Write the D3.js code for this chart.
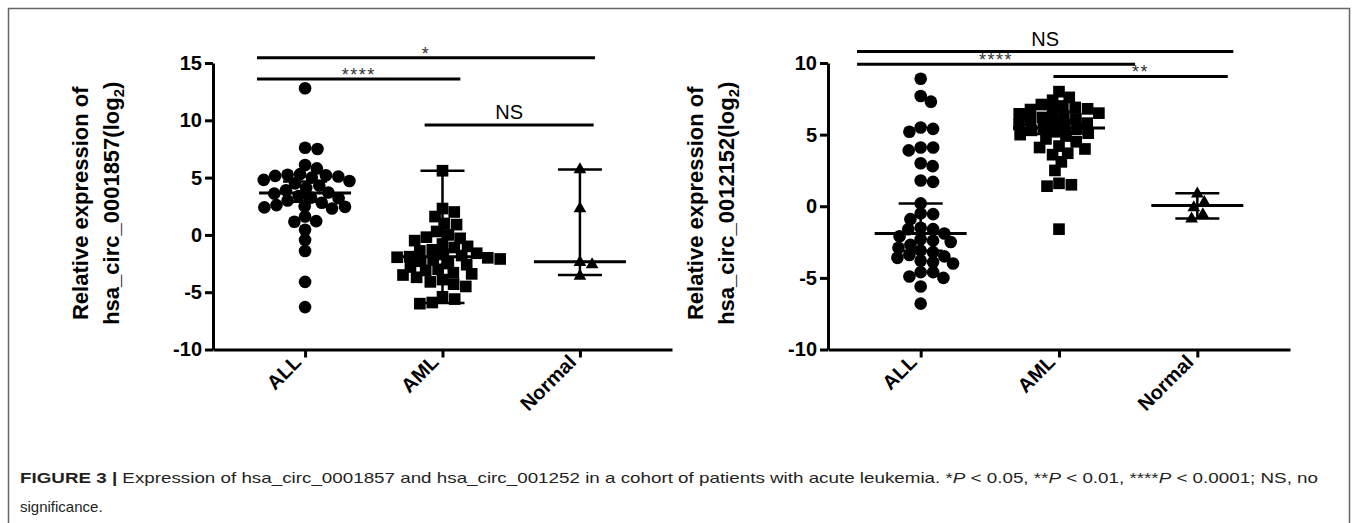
<!DOCTYPE html>
<html>
<head>
<meta charset="utf-8">
<script src="https://cdn.jsdelivr.net/npm/d3@7"></script>
<style>
  body { margin: 0; background: #fff; }
  svg { display: block; }
</style>
</head>
<body>
<svg id="canvas"></svg>
<script>
const groups = ["ALL", "AML", "Normal"];

// panel 1: hsa_circ_0001857
const circ1857ALL = [12.8, 7.6, 7.5, 6.1, 5.8, 5.3, 5.2, 5.25, 5.15, 5.1, 5.0, 4.8, 4.7, 4.5, 4.3, 4.1, 3.9, 3.7,
  3.6, 3.4, 3.2, 3.25, 3.0, 2.8, 2.6, 2.5, 2.4, 2.45, 2.3, 1.6, 1.2, 1.15, 0.45, -0.45, -1.4, -4.1, -6.3];
const circ1857AML = [5.6, 2.3, 2.0, 1.6, 1.0, 0.9, 0.3, 0.0, -0.2, -0.3, -0.5, -0.8, -1.0, -1.1, -1.3, -1.4,
  -1.6, -1.7, -1.8, -1.9, -1.95, -2.0, -2.1, -2.2, -2.3, -2.5, -2.6, -2.8, -3.0, -3.1, -3.3, -3.4, -3.5,
  -3.7, -3.9, -4.1, -4.3, -4.5, -5.4, -5.6, -5.9, -6.0];
const circ1857Normal = [5.7, 2.3, -2.4, -2.6, -3.6];
const circ1857Median = [3.65, -1.9, -2.35];
const circ1857Low = [2.9, -5.95, -3.5];
const circ1857High = [4.65, 5.6, 5.7];
const circ1857Ticks = [-10, -5, 0, 5, 10, 15];
const circ1857SigText = ["*", "****", "NS"];
const circ1857SigLevel = [15.45, 13.6, 9.6];
const circ1857SigFrom = [-0.35, -0.35, 0.87];
const circ1857SigTo = [2.11, 1.13, 2.1];

// panel 2: hsa_circ_0012152
const circ12152ALL = [8.9, 7.7, 7.3, 5.5, 5.4, 5.2, 4.1, 4.1, 3.9, 3.0, 2.8, 1.8, 1.7, 0.2, -0.5, -0.55, -0.9,
  -1.5, -1.6, -1.6, -1.9, -2.1, -2.3, -2.4, -2.5, -2.7, -2.9, -3.1, -3.2, -3.4, -3.5, -3.6, -3.8, -3.9,
  -4.0, -4.6, -4.6, -4.9, -5.0, -5.6, -6.8];
const circ12152AML = [8.0, 7.6, 7.4, 7.1, 7.0, 6.9, 6.8, 6.75, 6.6, 6.5, 6.45, 6.3, 6.2, 6.1, 6.0, 5.9, 5.8,
  5.7, 5.6, 5.5, 5.4, 5.3, 5.2, 5.1, 5.0, 4.9, 4.7, 4.5, 4.2, 4.1, 4.0, 3.7, 3.6, 3.1, 2.5, 1.6, 1.5, 1.4, -1.6];
const circ12152Normal = [0.86, 0.28, -0.1, -0.58, -0.88];
const circ12152Median = [-1.9, 5.46, 0.05];
const circ12152Low = [-3.1, 5.05, -0.85];
const circ12152High = [0.2, 6.0, 0.9];
const circ12152Ticks = [-10, -5, 0, 5, 10];
const circ12152SigText = ["NS", "****", "**"];
const circ12152SigLevel = [10.8, 9.92, 9.06];
const circ12152SigFrom = [-0.46, -0.46, 0.96];
const circ12152SigTo = [2.26, 1.55, 2.22];

const width = 1358;
const height = 523;

const svg = d3.select("#canvas").attr("width", width).attr("height", height);

// figure frame
svg.append("rect")
  .attr("x", 8.5).attr("y", 8.5)
  .attr("width", 1341).attr("height", 560)
  .attr("fill", "none").attr("stroke", "#666").attr("stroke-width", 1.5);

const symbolTypes = [d3.symbolCircle, d3.symbolSquare, d3.symbolTriangle];
const symbolSizes = [125, 136, 70];

// beeswarm: each point goes as close to the centre as it can,
// points keep a wider gap sideways than up and down (like Prism does)
const swarm = (values, y, gx, gy) => {
  const placed = [];
  const hits = (q, c, py) => ((q.x - c) / gx) ** 2 + ((q.y - py) / gy) ** 2 < 0.999;
  values
    .map((v) => ({ v: v, y: y(v) }))
    .sort((a, b) => a.y - b.y)
    .forEach((p) => {
      let cands = [0];
      placed.forEach((q) => {
        const dy = Math.abs(q.y - p.y);
        if (dy < gy) {
          const dx = gx * Math.sqrt(1 - (dy / gy) ** 2);
          cands.push(q.x + dx, q.x - dx);
        }
      });
      cands.sort((a, b) => Math.abs(a) - Math.abs(b));
      for (const c of cands) {
        if (!placed.some((q) => hits(q, c, p.y))) {
          p.x = c;
          break;
        }
      }
      placed.push(p);
    });
  return placed;
};

const fontBase = "Liberation Sans, Arial, sans-serif";

const drawPanel = (cfg) => {
  const g = svg.append("g");

  const xScale = d3.scalePoint().domain(groups).range([cfg.x0, cfg.x1]).padding(0.67);
  const step = xScale.step();
  const xAt = (i) => xScale(groups[0]) + i * step;

  const yScale = d3.scaleLinear().domain([-10, d3.max(cfg.ticks)]).range([349.5, 63]);

  // points
  cfg.series.forEach((vals, i) => {
    const pts = swarm(vals, yScale, 12.5, 10);
    g.append("g")
      .selectAll("path")
      .data(pts)
      .enter()
      .append("path")
      .attr("d", d3.symbol().type(symbolTypes[i]).size(symbolSizes[i]))
      .attr("transform", (d) => `translate(${xScale(groups[i]) + d.x},${d.y})`)
      .attr("fill", "#000");
  });

  // median with error bars
  groups.forEach((name, i) => {
    const cx = xScale(name);
    g.append("line")
      .attr("x1", cx).attr("x2", cx)
      .attr("y1", yScale(cfg.high[i])).attr("y2", yScale(cfg.low[i]))
      .attr("stroke", "#000").attr("stroke-width", 2.5);
    [cfg.high[i], cfg.low[i]].forEach((v) => {
      g.append("line")
        .attr("x1", cx - 22).attr("x2", cx + 22)
        .attr("y1", yScale(v)).attr("y2", yScale(v))
        .attr("stroke", "#000").attr("stroke-width", 2.5);
    });
    g.append("line")
      .attr("x1", cx - 46).attr("x2", cx + 46)
      .attr("y1", yScale(cfg.median[i])).attr("y2", yScale(cfg.median[i]))
      .attr("stroke", "#000").attr("stroke-width", 3);
  });

  // significance bars
  cfg.sigText.forEach((t, i) => {
    const yy = yScale(cfg.sigLevel[i]);
    const a = xAt(cfg.sigFrom[i]);
    const b = xAt(cfg.sigTo[i]);
    g.append("line")
      .attr("x1", a).attr("x2", b).attr("y1", yy).attr("y2", yy)
      .attr("stroke", "#000").attr("stroke-width", 3);
    const isNS = t === "NS";
    g.append("text")
      .attr("x", (a + b) / 2)
      .attr("y", isNS ? yy - 6 : yy + 2)
      .attr("text-anchor", "middle")
      .attr("font-family", fontBase)
      .attr("font-size", isNS ? 20 : 18)
      .attr("letter-spacing", isNS ? 0 : 1.5)
      .attr("fill", isNS ? "#000" : "#333")
      .text(t);
  });

  // axes
  const yAxis = d3.axisLeft(yScale)
    .tickValues(cfg.ticks)
    .tickFormat((d) => String(d))
    .tickSize(8)
    .tickSizeOuter(0)
    .tickPadding(3);
  const yG = g.append("g").attr("transform", `translate(${cfg.x0},0)`).call(yAxis);

  const xAxis = d3.axisBottom(xScale).tickSize(8).tickSizeOuter(0);
  const xG = g.append("g").attr("transform", `translate(0,${yScale(-10)})`).call(xAxis);

  [yG, xG].forEach((ax) => {
    ax.selectAll("path, line").attr("stroke", "#000").attr("stroke-width", 3);
    ax.selectAll("text")
      .attr("fill", "#000")
      .attr("font-family", fontBase)
      .attr("font-weight", "bold")
      .attr("font-size", 20);
  });

  xG.selectAll("text")
    .attr("text-anchor", "end")
    .attr("transform", "translate(-13,4) rotate(-45)")
    .attr("x", 0)
    .attr("y", 0)
    .attr("dy", "0.7em");

  // y label
  const labelY = (yScale.range()[0] + yScale.range()[1]) / 2 - 3;
  const lbl = g.append("g")
    .attr("font-family", fontBase)
    .attr("font-weight", "bold")
    .attr("font-size", 22)
    .attr("fill", "#000")
    .attr("text-anchor", "middle");
  lbl.append("text")
    .attr("transform", `translate(${cfg.x0 - 133},${labelY}) rotate(-90)`)
    .attr("dy", "0.35em")
    .text("Relative expression of");
  const l2 = lbl.append("text")
    .attr("transform", `translate(${cfg.x0 - 102},${labelY}) rotate(-90)`)
    .attr("dy", "0.35em");
  l2.append("tspan").text(cfg.name + "(log");
  l2.append("tspan").attr("font-size", 15).attr("dy", "0.35em").text("2");
  l2.append("tspan").attr("dy", "-0.24em").text(")");
};

drawPanel({
  name: "hsa_circ_0001857",
  x0: 213, x1: 672,
  series: [circ1857ALL, circ1857AML, circ1857Normal],
  median: circ1857Median, low: circ1857Low, high: circ1857High,
  ticks: circ1857Ticks,
  sigText: circ1857SigText, sigLevel: circ1857SigLevel,
  sigFrom: circ1857SigFrom, sigTo: circ1857SigTo,
});

drawPanel({
  name: "hsa_circ_0012152",
  x0: 828, x1: 1290,
  series: [circ12152ALL, circ12152AML, circ12152Normal],
  median: circ12152Median, low: circ12152Low, high: circ12152High,
  ticks: circ12152Ticks,
  sigText: circ12152SigText, sigLevel: circ12152SigLevel,
  sigFrom: circ12152SigFrom, sigTo: circ12152SigTo,
});

// caption
const cap = svg.append("g")
  .attr("font-family", "Liberation Sans Narrow, Arial Narrow, Liberation Sans, sans-serif")
  .attr("font-size", 15)
  .attr("fill", "#231f20");

const line1 = cap.append("text").attr("x", 20).attr("y", 483)
  .attr("textLength", 1298).attr("lengthAdjust", "spacingAndGlyphs");
line1.append("tspan").attr("font-weight", "bold").text("FIGURE 3 | ");
line1.append("tspan").text("Expression of hsa_circ_0001857 and hsa_circ_001252 in a cohort of patients with acute leukemia. *");
line1.append("tspan").attr("font-style", "italic").text("P");
line1.append("tspan").text(" < 0.05, **");
line1.append("tspan").attr("font-style", "italic").text("P");
line1.append("tspan").text(" < 0.01, ****");
line1.append("tspan").attr("font-style", "italic").text("P");
line1.append("tspan").text(" < 0.0001; NS, no");

cap.append("text").attr("x", 20).attr("y", 512).text("significance.");
</script>
</body>
</html>
